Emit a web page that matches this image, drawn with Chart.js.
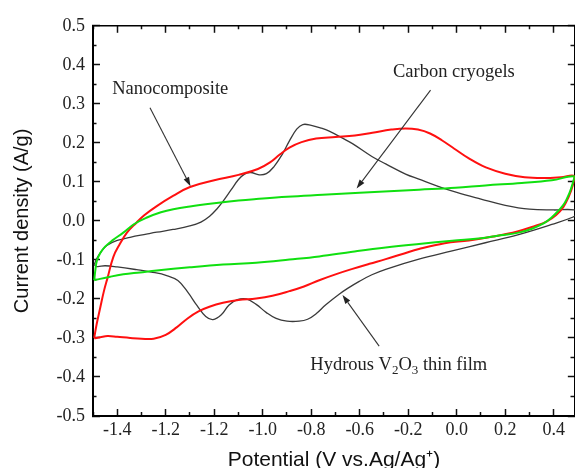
<!DOCTYPE html>
<html><head><meta charset="utf-8">
<script src="https://cdn.jsdelivr.net/npm/chart.js@4.4.1/dist/chart.umd.min.js"></script>
<style>html,body{margin:0;padding:0;background:#fff;}</style>
</head><body>
<canvas id="c" width="575" height="468"></canvas>
<script>
// ---- data (potential in V, current density in A/g) ----
const nanoPotential = [-1.495,-1.485,-1.470,-1.455,-1.440,-1.416,-1.390,-1.360,-1.320,-1.290,-1.237,-1.170,-1.100,-1.000,-0.900,-0.820,-0.770,-0.730,-0.690,-0.640,-0.580,-0.500,-0.420,-0.348,-0.270,-0.211,-0.160,-0.110,-0.060,-0.010,0.050,0.120,0.200,0.280,0.360,0.430,0.485,
  0.478,0.462,0.440,0.410,0.370,0.323,0.250,0.150,0.050,-0.050,-0.156,-0.220,-0.293,-0.360,-0.430,-0.500,-0.567,-0.630,-0.690,-0.760,-0.827,-0.900,-0.964,-1.020,-1.065,-1.110,-1.155,-1.200,-1.250,-1.300,-1.347,-1.400,-1.440,-1.470,-1.495];
const nanoCurrent = [-0.300,-0.265,-0.222,-0.180,-0.146,-0.092,-0.060,-0.030,-0.004,0.014,0.038,0.064,0.087,0.104,0.118,0.133,0.150,0.170,0.188,0.202,0.211,0.215,0.219,0.226,0.234,0.237,0.234,0.224,0.206,0.185,0.160,0.137,0.121,0.112,0.110,0.112,0.115,
  0.090,0.062,0.036,0.015,-0.002,-0.013,-0.027,-0.040,-0.050,-0.057,-0.072,-0.084,-0.098,-0.110,-0.123,-0.137,-0.152,-0.168,-0.180,-0.192,-0.199,-0.203,-0.210,-0.220,-0.232,-0.250,-0.273,-0.292,-0.302,-0.302,-0.300,-0.297,-0.295,-0.298,-0.301];

const cryoPotential = [-1.495,-1.490,-1.484,-1.470,-1.450,-1.420,-1.375,-1.330,-1.280,-1.220,-1.169,-1.100,-1.000,-0.900,-0.827,-0.700,-0.553,-0.400,-0.279,-0.156,-0.005,0.118,0.268,0.392,0.485,
  0.478,0.465,0.445,0.419,0.390,0.360,0.310,0.255,0.180,0.118,-0.019,-0.156,-0.293,-0.430,-0.567,-0.690,-0.827,-0.964,-1.101,-1.237,-1.306,-1.375,-1.429,-1.495];
const cryoCurrent = [-0.152,-0.125,-0.102,-0.082,-0.066,-0.050,-0.030,-0.008,0.008,0.022,0.030,0.037,0.045,0.052,0.056,0.062,0.067,0.072,0.076,0.080,0.085,0.091,0.097,0.104,0.114,
  0.096,0.072,0.046,0.026,0.008,-0.006,-0.020,-0.030,-0.037,-0.043,-0.051,-0.059,-0.068,-0.079,-0.091,-0.099,-0.107,-0.112,-0.119,-0.127,-0.132,-0.137,-0.143,-0.152];

const filmPotential = [-1.495,-1.484,-1.470,-1.443,-1.400,-1.347,-1.280,-1.237,-1.170,-1.101,-1.055,-1.019,-0.990,-0.964,-0.930,-0.900,-0.875,-0.850,-0.815,-0.785,-0.755,-0.720,-0.690,-0.660,-0.635,-0.600,-0.560,-0.526,-0.471,-0.430,-0.350,-0.293,-0.211,-0.156,-0.074,0.000,0.100,0.200,0.300,0.400,0.485,
  0.495,0.480,0.392,0.255,0.118,-0.019,-0.156,-0.293,-0.350,-0.402,-0.450,-0.485,-0.540,-0.580,-0.615,-0.650,-0.700,-0.745,-0.785,-0.827,-0.868,-0.905,-0.940,-0.970,-1.005,-1.035,-1.070,-1.110,-1.150,-1.196,-1.260,-1.320,-1.400,-1.450,-1.484,-1.495];
const filmCurrent = [-0.112,-0.096,-0.082,-0.063,-0.050,-0.042,-0.034,-0.029,-0.022,-0.013,-0.003,0.012,0.030,0.050,0.080,0.106,0.120,0.124,0.118,0.121,0.138,0.170,0.205,0.235,0.247,0.245,0.238,0.230,0.212,0.198,0.165,0.146,0.120,0.107,0.088,0.073,0.056,0.040,0.030,0.028,0.028,
  0.018,0.010,-0.009,-0.035,-0.056,-0.077,-0.098,-0.124,-0.138,-0.155,-0.173,-0.188,-0.215,-0.238,-0.252,-0.257,-0.257,-0.250,-0.235,-0.214,-0.200,-0.202,-0.216,-0.240,-0.253,-0.245,-0.218,-0.182,-0.153,-0.140,-0.131,-0.125,-0.118,-0.115,-0.117,-0.112];

// ---- ticks ----
const xMajorTicks = [-1.4,-1.2,-1.0,-0.8,-0.6,-0.4,-0.2,0.0,0.2,0.4];
const xTickLabels = ['-1.4','-1.2','-1.2','-1.0','-0.8','-0.6','-0.2','0.0','0.2','0.4'];
const xMinorTicks = [-1.5,-1.3,-1.1,-0.9,-0.7,-0.5,-0.3,-0.1,0.1,0.3];
const yMajorTicks = [-0.5,-0.4,-0.3,-0.2,-0.1,0.0,0.1,0.2,0.3,0.4,0.5];
const yTickLabels = ['-0.5','-0.4','-0.3','-0.2','-0.1','0.0','0.1','0.2','0.3','0.4','0.5'];
const yMinorTicks = [-0.45,-0.35,-0.25,-0.15,-0.05,0.05,0.15,0.25,0.35,0.45];

// ---- annotations (in data units) ----
const noteTexts = [
  {segments: [['Nanocomposite', 0]], at: [-1.421, 0.326]},
  {segments: [['Carbon cryogels', 0]], at: [-0.263, 0.369]},
  {segments: [['Hydrous V', 0], ['2', 1], ['O', 0], ['3', 1], [' thin film', 0]], at: [-0.604, -0.382]}
];
const noteArrows = [
  {from: [-1.265, 0.290], to: [-1.098, 0.089]},
  {from: [-0.108, 0.335], to: [-0.413, 0.083]},
  {from: [-0.320, -0.321], to: [-0.471, -0.190]}
];

const pts = (xs, ys) => xs.map((v, i) => ({x: v, y: ys[i]}));
const near = (arr, v) => arr.findIndex(a => Math.abs(a - v) < 1e-6);

const xAll = xMajorTicks.concat(xMinorTicks).sort((a,b)=>a-b);
const yAll = yMajorTicks.concat(yMinorTicks).sort((a,b)=>a-b);

const SERIF = "'Liberation Serif', 'Times New Roman', serif";
const SANS = "'Liberation Sans', Arial, sans-serif";

function dashFor(majors, fromBorder) {
  return ctx => {
    const v = ctx.tick ? ctx.tick.value : 0;
    if (near(majors, v) >= 0) return [];
    return fromBorder ? [5, 30] : [0, 3.5, 5, 30];
  };
}

const notePlugin = {
  id: 'notes',
  afterDatasetsDraw(chart) {
    const {ctx} = chart;
    const xs = chart.scales.x, ys = chart.scales.y;
    ctx.save();
    noteArrows.forEach(a => {
      const x1 = xs.getPixelForValue(a.from[0]), y1 = ys.getPixelForValue(a.from[1]);
      const x2 = xs.getPixelForValue(a.to[0]), y2 = ys.getPixelForValue(a.to[1]);
      const ang = Math.atan2(y2 - y1, x2 - x1);
      const c = Math.cos(ang), s = Math.sin(ang);
      const L = 9, W = 3;
      ctx.strokeStyle = '#333';
      ctx.lineWidth = 1.1;
      ctx.beginPath();
      ctx.moveTo(x1, y1);
      ctx.lineTo(x2 - L * c, y2 - L * s);
      ctx.stroke();
      ctx.fillStyle = '#222';
      ctx.beginPath();
      ctx.moveTo(x2, y2);
      ctx.lineTo(x2 - L * c + W * s, y2 - L * s - W * c);
      ctx.lineTo(x2 - L * c - W * s, y2 - L * s + W * c);
      ctx.closePath();
      ctx.fill();
    });
    ctx.fillStyle = '#222';
    ctx.textBaseline = 'alphabetic';
    ctx.textAlign = 'left';
    noteTexts.forEach(n => {
      let px = xs.getPixelForValue(n.at[0]);
      const py = ys.getPixelForValue(n.at[1]);
      n.segments.forEach(([t, sub]) => {
        ctx.font = (sub ? '13px ' : '18.5px ') + SERIF;
        ctx.fillText(t, px, py + (sub ? 4 : 0));
        px += ctx.measureText(t).width;
      });
    });
    ctx.restore();
  }
};

new Chart(document.getElementById('c'), {
  type: 'scatter',
  data: {
    datasets: [
      {label: 'Hydrous V2O3 thin film', data: pts(filmPotential, filmCurrent), borderColor: '#3a3a3a', borderWidth: 1.3, order: 2},
      {label: 'Nanocomposite', data: pts(nanoPotential, nanoCurrent), borderColor: '#ff1010', borderWidth: 2, order: 1},
      {label: 'Carbon cryogels', data: pts(cryoPotential, cryoCurrent), borderColor: '#10e010', borderWidth: 2, order: 0}
    ]
  },
  options: {
    responsive: false,
    animation: false,
    devicePixelRatio: 1,
    showLine: true,
    elements: {point: {radius: 0, hoverRadius: 0}, line: {tension: 0.4, fill: false}},
    layout: {padding: {top: 20, right: -2, left: 0, bottom: 0}},
    plugins: {legend: {display: false}, tooltip: {enabled: false}},
    scales: {
      x: {
        type: 'linear', position: 'bottom', min: -1.5, max: 0.487,
        afterBuildTicks: s => { s.ticks = xAll.map(v => ({value: v})); },
        afterFit: s => { s.height = 52; },
        ticks: {
          autoSkip: false, maxRotation: 0, padding: 10, color: '#222',
          font: {family: SERIF, size: 18},
          callback: v => { const i = near(xMajorTicks, v); return i >= 0 ? xTickLabels[i] : ''; }
        },
        grid: {drawOnChartArea: false, tickLength: -7, tickColor: '#111', tickWidth: 1.5, tickBorderDash: dashFor(xMajorTicks, true)},
        border: {display: true, color: '#000', width: 2},
        title: {display: true, text: 'Potential (V vs.Ag/Ag\u207A)', color: '#111', font: {family: SANS, size: 21, lineHeight: 1}, padding: {top: 0, bottom: -3}}
      },
      x2: {
        type: 'linear', position: 'top', min: -1.5, max: 0.487,
        afterBuildTicks: s => { s.ticks = xAll.map(v => ({value: v})); },
        afterFit: s => { s.height = 0; },
        ticks: {display: false},
        grid: {drawOnChartArea: false, tickLength: -7, tickColor: '#111', tickWidth: 1.5, tickBorderDash: dashFor(xMajorTicks, false)},
        border: {display: true, color: '#000', width: 1.5}
      },
      y: {
        type: 'linear', position: 'left', min: -0.5, max: 0.5,
        afterBuildTicks: s => { s.ticks = yAll.map(v => ({value: v})); },
        afterFit: s => { s.width = 93; },
        ticks: {
          autoSkip: false, padding: 15, color: '#222',
          font: {family: SERIF, size: 18},
          callback: v => { const i = near(yMajorTicks, v); return i >= 0 ? yTickLabels[i] : ''; }
        },
        grid: {drawOnChartArea: false, tickLength: -7, tickColor: '#111', tickWidth: 1.5, tickBorderDash: dashFor(yMajorTicks, false)},
        border: {display: true, color: '#000', width: 2},
        title: {display: true, text: 'Current density (A/g)', color: '#111', font: {family: SANS, size: 20, lineHeight: 1}, padding: {top: 12, bottom: 0}}
      },
      y2: {
        type: 'linear', position: 'right', min: -0.5, max: 0.5,
        afterBuildTicks: s => { s.ticks = yAll.map(v => ({value: v})); },
        afterFit: s => { s.width = 0; },
        ticks: {display: false},
        grid: {drawOnChartArea: false, tickLength: -7, tickColor: '#111', tickWidth: 1.5, tickBorderDash: dashFor(yMajorTicks, true)},
        border: {display: true, color: '#000', width: 1.5}
      }
    }
  },
  plugins: [notePlugin]
});
</script>
</body></html>
